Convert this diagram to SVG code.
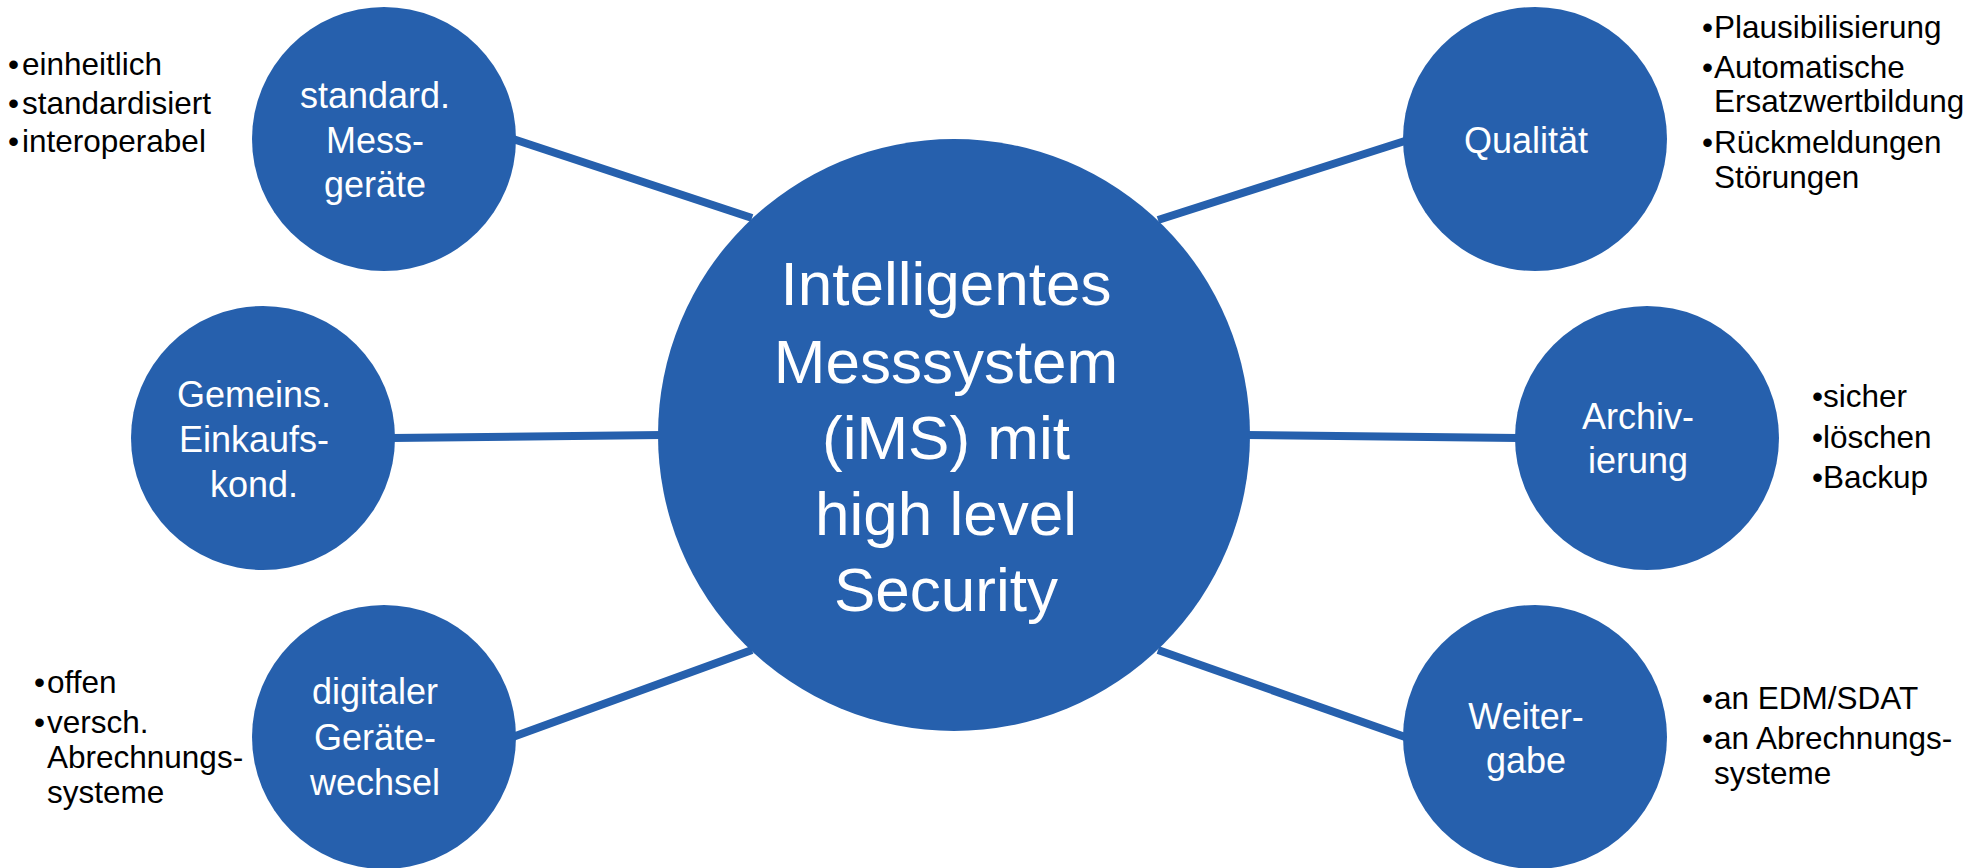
<svg xmlns="http://www.w3.org/2000/svg" width="1985" height="868" viewBox="0 0 1985 868">
<style>
.node{fill:#2660ad}
.conn{stroke:#2660ad;stroke-width:8;fill:none}
.lbl{font-family:'Liberation Sans',Arial,sans-serif;fill:#ffffff;text-anchor:middle;font-size:36px}
.big{font-family:'Liberation Sans',Arial,sans-serif;fill:#ffffff;text-anchor:middle;font-size:62px}
.bul{font-family:'Liberation Sans',Arial,sans-serif;fill:#000000;font-size:31.5px}
</style>
<rect width="1985" height="868" fill="#ffffff"/>
<g id="connectors">
<line class="conn" x1="510" y1="138" x2="752" y2="218"/>
<line class="conn" x1="392" y1="438" x2="662" y2="435"/>
<line class="conn" x1="510" y1="738" x2="752" y2="650"/>
<line class="conn" x1="1158" y1="220" x2="1408" y2="140"/>
<line class="conn" x1="1246" y1="435" x2="1518" y2="438"/>
<line class="conn" x1="1158" y1="650" x2="1408" y2="738"/>
</g>
<g id="center">
<circle class="node" cx="954" cy="435" r="296"/>
<text class="big"><tspan x="946" y="305">Intelligentes</tspan><tspan x="946" y="383">Messsystem</tspan><tspan x="946" y="459">(iMS) mit</tspan><tspan x="946" y="535">high level</tspan><tspan x="946" y="611">Security</tspan></text>
</g>
<g id="standard">
<circle class="node" cx="384" cy="139" r="132"/>
<text class="lbl"><tspan x="375" y="108">standard.</tspan><tspan x="375" y="153">Mess-</tspan><tspan x="375" y="197">geräte</tspan></text>
<text class="bul"><tspan x="8" y="75">•</tspan><tspan x="22" y="75">einheitlich</tspan><tspan x="8" y="114">•</tspan><tspan x="22" y="114">standardisiert</tspan><tspan x="8" y="152">•</tspan><tspan x="22" y="152">interoperabel</tspan></text>
</g>
<g id="gemeins">
<circle class="node" cx="263" cy="438" r="132"/>
<text class="lbl"><tspan x="254" y="407">Gemeins.</tspan><tspan x="254" y="452">Einkaufs-</tspan><tspan x="254" y="497">kond.</tspan></text>
</g>
<g id="digital">
<circle class="node" cx="384" cy="737" r="132"/>
<text class="lbl"><tspan x="375" y="704">digitaler</tspan><tspan x="375" y="750">Geräte-</tspan><tspan x="375" y="795">wechsel</tspan></text>
<text class="bul"><tspan x="34" y="693">•</tspan><tspan x="47" y="693">offen</tspan><tspan x="34" y="733">•</tspan><tspan x="47" y="733">versch.</tspan><tspan x="47" y="768">Abrechnungs-</tspan><tspan x="47" y="803">systeme</tspan></text>
</g>
<g id="qualitaet">
<circle class="node" cx="1535" cy="139" r="132"/>
<text class="lbl"><tspan x="1526" y="153">Qualität</tspan></text>
<text class="bul"><tspan x="1702" y="38">•</tspan><tspan x="1714" y="38">Plausibilisierung</tspan><tspan x="1702" y="78">•</tspan><tspan x="1714" y="78">Automatische</tspan><tspan x="1714" y="112">Ersatzwertbildung</tspan><tspan x="1702" y="153">•</tspan><tspan x="1714" y="153">Rückmeldungen</tspan><tspan x="1714" y="188">Störungen</tspan></text>
</g>
<g id="archiv">
<circle class="node" cx="1647" cy="438" r="132"/>
<text class="lbl"><tspan x="1638" y="429">Archiv-</tspan><tspan x="1638" y="473">ierung</tspan></text>
<text class="bul"><tspan x="1812" y="407">•</tspan><tspan x="1823" y="407">sicher</tspan><tspan x="1812" y="448">•</tspan><tspan x="1823" y="448">löschen</tspan><tspan x="1812" y="488">•</tspan><tspan x="1823" y="488">Backup</tspan></text>
</g>
<g id="weitergabe">
<circle class="node" cx="1535" cy="737" r="132"/>
<text class="lbl"><tspan x="1526" y="729">Weiter-</tspan><tspan x="1526" y="773">gabe</tspan></text>
<text class="bul"><tspan x="1702" y="709">•</tspan><tspan x="1714" y="709">an EDM/SDAT</tspan><tspan x="1702" y="749">•</tspan><tspan x="1714" y="749">an Abrechnungs-</tspan><tspan x="1714" y="784">systeme</tspan></text>
</g>
</svg>
